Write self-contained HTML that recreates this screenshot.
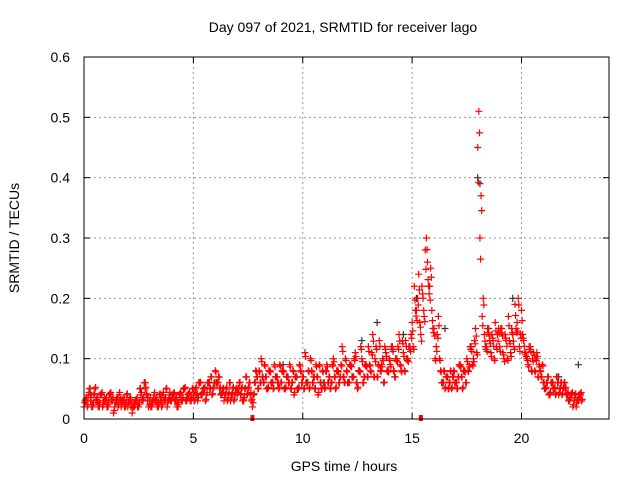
<!DOCTYPE html>
<html><head><meta charset="utf-8"><style>
body{margin:0;background:#fff;}
svg{font-family:"Liberation Sans",sans-serif;}
</style></head><body>
<svg id="chart" width="640" height="480">
<rect width="640" height="480" fill="#fff"/>
<text x="343" y="32" font-size="14" text-anchor="middle">Day 097 of 2021, SRMTID for receiver lago</text>
<text x="344" y="471" font-size="14" text-anchor="middle">GPS time / hours</text>
<text transform="translate(19,238) rotate(-90)" font-size="14" text-anchor="middle">SRMTID / TECUs</text>
<g id="grid"></g><g id="ticks"></g><g id="pts"></g>
<rect x="84" y="57" width="525" height="362" fill="none" stroke="#000" stroke-width="1"/>
</svg>
<script>
const xTicks=[0,5,10,15,20];
const yTicks=[0,0.1,0.2,0.3,0.4,0.5,0.6];
const yTickLabels=["0","0.1","0.2","0.3","0.4","0.5","0.6"];
const timeStep=0.1;
const seriesA=[.02,.03,.04,.03,.02,.05,.03,.02,.04,.03,.03,.02,.04,.03,.02,.03,.04,.02,.03,.02,.02,.03,.01,.02,.03,.02,.04,.03,.05,.03,.03,.02,.04,.03,.02,.03,.04,.03,.02,.04,.03,.04,.03,.02,.04,.03,.05,.03,.04,.03,.04,.05,.03,.06,.04,.05,.04,.06,.07,.05,.08,.06,.05,.04,.03,.05,.04,.03,.05,.04,.04,.06,.05,.03,.07,.05,.04,.02,.06,.07,.08,.10,.06,.07,.05,.08,.06,.09,.07,.05,.06,.08,.05,.07,.09,.06,.04,.07,.05,.08,.07,.11,.06,.05,.08,.07,.09,.04,.06,.08,.05,.09,.07,.06,.10,.05,.08,.07,.12,.06,.08,.06,.09,.07,.11,.05,.08,.10,.07,.09,.12,.08,.14,.10,.07,.13,.09,.06,.11,.08,.09,.12,.07,.10,.14,.08,.11,.13,.10,.12,.16,.22,.18,.24,.14,.20,.28,.26,.22,.18,.15,.12,.17,.08,.06,.05,.07,.06,.05,.08,.06,.07,.09,.05,.08,.10,.09,.12,.10,.15,.45,.30,.17,.14,.12,.15,.11,.13,.16,.14,.12,.15,.10,.13,.17,.11,.14,.19,.16,.12,.18,.13,.11,.09,.12,.10,.08,.11,.09,.07,.06,.05,.07,.04,.06,.05,.07,.04,.06,.05,.05,.04,.03,.04,.03,.02,.03,.04];
const seriesB=[.03,.02,.05,.02,.04,.03,.02,.04,.02,.03,.02,.04,.03,.01,.03,.02,.03,.03,.02,.04,.03,.02,.02,.03,.02,.05,.03,.06,.04,.02,.02,.03,.03,.02,.04,.02,.03,.05,.03,.03,.04,.03,.02,.04,.03,.05,.03,.04,.03,.05,.03,.04,.06,.04,.05,.03,.06,.05,.04,.06,.06,.07,.04,.05,.04,.03,.06,.04,.03,.05,.05,.04,.03,.05,.04,.06,.03,.04,.08,.05,.06,.07,.09,.05,.08,.06,.05,.07,.06,.09,.08,.05,.07,.06,.05,.08,.07,.05,.09,.06,.05,.06,.08,.10,.06,.05,.07,.09,.05,.06,.08,.06,.05,.09,.07,.08,.06,.09,.07,.10,.06,.09,.07,.10,.06,.08,.12,.06,.09,.07,.09,.11,.07,.12,.09,.08,.10,.12,.08,.10,.12,.08,.10,.12,.09,.13,.08,.10,.12,.14,.12,.18,.20,.16,.22,.17,.30,.22,.25,.15,.10,.14,.10,.06,.08,.07,.05,.08,.07,.06,.05,.09,.07,.08,.06,.08,.12,.09,.13,.11,.51,.37,.20,.12,.15,.13,.14,.10,.12,.15,.15,.11,.14,.10,.13,.15,.12,.15,.20,.14,.14,.11,.10,.12,.08,.11,.10,.07,.08,.09,.05,.06,.04,.06,.05,.04,.06,.05,.04,.06,.04,.03,.04,.02,.04,.03,.04,.03];
const blackT=[0.3,2.8,5.5,9.1,12.7,13.4,14.6,15.2,16.5,18.0,18.1,19.6,21.7,22.6];
const blackV=[0.04,0.06,0.05,0.09,0.13,0.16,0.14,0.2,0.15,0.40,0.39,0.2,0.07,0.09];
const markerT=[7.7,15.4];
const X=t=>84+t/24*525, Y=v=>419-v/0.6*362;
const NS="http://www.w3.org/2000/svg";
function mk(tag,attrs,parent){const e=document.createElementNS(NS,tag);for(const k in attrs)e.setAttribute(k,attrs[k]);parent.appendChild(e);return e;}
const grid=document.getElementById('grid'),ticks=document.getElementById('ticks'),pts=document.getElementById('pts');
xTicks.forEach(t=>{
 if(t>0){const g=mk('line',{x1:X(t),x2:X(t),y1:57,y2:419,stroke:'#999','stroke-dasharray':'2,3'},grid);
 
 }
 mk('line',{x1:X(t),x2:X(t),y1:419,y2:413,stroke:'#000'},ticks);
 mk('line',{x1:X(t),x2:X(t),y1:57,y2:63,stroke:'#000'},ticks);
 const l=mk('text',{x:X(t),y:443,'font-size':14,'text-anchor':'middle'},ticks);l.textContent=t;
 
 
});
yTicks.forEach((v,i)=>{
 if(v>0&&v<0.6){const g=mk('line',{x1:84,x2:609,y1:Y(v),y2:Y(v),stroke:'#999','stroke-dasharray':'2,3'},grid);
 
 }
 mk('line',{x1:84,x2:90,y1:Y(v),y2:Y(v),stroke:'#000'},ticks);
 mk('line',{x1:603,x2:609,y1:Y(v),y2:Y(v),stroke:'#000'},ticks);
 const l=mk('text',{x:70,y:Y(v)+5,'font-size':14,'text-anchor':'end'},ticks);l.textContent=yTickLabels[i];
 
 
});
function cross(t,v,c){const g=mk('path',{d:`M${X(t)-3.5},${Y(v)}h7M${X(t)},${Y(v)-3.5}v7`,stroke:c,'stroke-width':1.2,fill:'none'},pts);
 
 }
blackT.forEach((t,i)=>cross(t,blackV[i],'#333'));
seriesA.forEach((v,i)=>{cross(i*timeStep,v,'#f00');cross(i*timeStep+0.03,v*0.85+0.01,'#f00');});
seriesB.forEach((v,i)=>{cross(i*timeStep+0.05,v,'#f00');cross(i*timeStep+0.08,v*0.92+0.005,'#f00');});
markerT.forEach(t=>{const r=mk('rect',{x:X(t)-2,y:415,width:4,height:6,fill:'#f00'},pts);
 
 });
</script>
</body></html>
